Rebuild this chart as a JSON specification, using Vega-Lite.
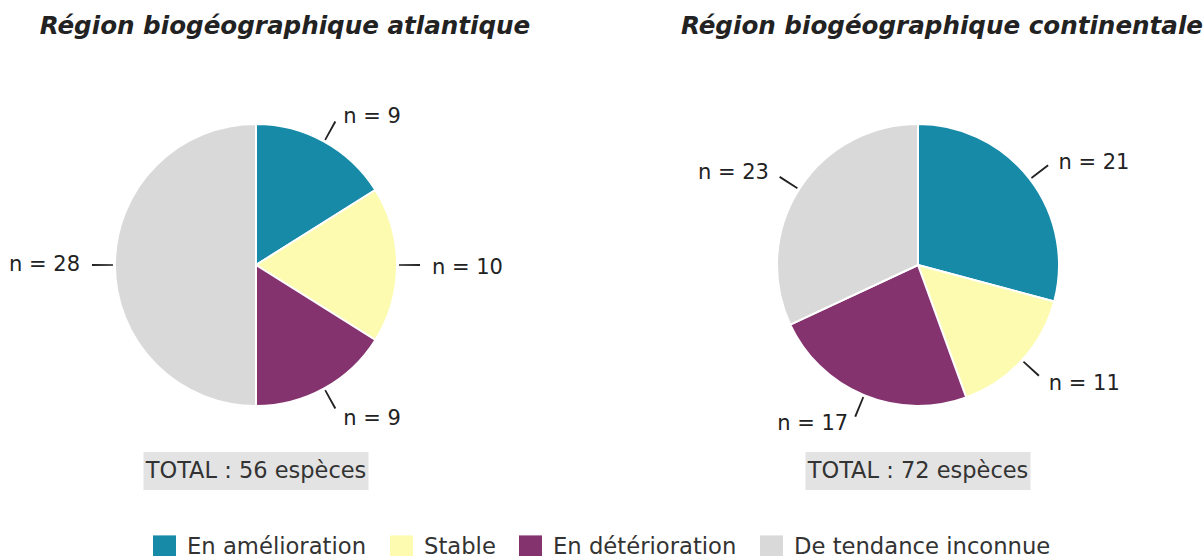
{
  "$schema": "https://vega.github.io/schema/vega-lite/v6.json",
  "padding": {"left": 0, "top": 14, "right": 0, "bottom": 0},
  "background": "white",
  "datasets": {
    "pie": [
      {"region": "atlantique", "cat": "En amélioration", "rank": 1, "n": 9},
      {"region": "atlantique", "cat": "Stable", "rank": 2, "n": 10},
      {"region": "atlantique", "cat": "En détérioration", "rank": 3, "n": 9},
      {"region": "atlantique", "cat": "De tendance inconnue", "rank": 4, "n": 28},
      {"region": "continentale", "cat": "En amélioration", "rank": 1, "n": 21},
      {"region": "continentale", "cat": "Stable", "rank": 2, "n": 11},
      {"region": "continentale", "cat": "En détérioration", "rank": 3, "n": 17},
      {"region": "continentale", "cat": "De tendance inconnue", "rank": 4, "n": 23}
    ]
  },
  "spacing": 131,
  "hconcat": [
    {
      "vconcat": [
        {
          "title": {"text": "Région biogéographique atlantique", "dx": 29},
          "width": 512, "height": 340,
          "data": {"name": "pie"},
          "transform": [
            {"filter": "datum.region === 'atlantique'"},
            {"joinaggregate": [{"op": "sum", "field": "n", "as": "tot"}]},
            {"window": [{"op": "sum", "field": "n", "as": "cum"}], "sort": [{"field": "rank"}], "frame": [null, 0]},
            {"calculate": "2*PI*(datum.cum-datum.n)/datum.tot", "as": "a0"},
            {"calculate": "2*PI*datum.cum/datum.tot", "as": "a1"},
            {"calculate": "(datum.a0+datum.a1)/2", "as": "mid"},
            {"calculate": "datum.mid-0.006", "as": "l0"},
            {"calculate": "datum.mid+0.006", "as": "l1"},
            {"calculate": "'n = ' + datum.n", "as": "label"}
          ],
          "layer": [
            {
              "mark": {"type": "arc", "outerRadius": 141, "stroke": "white", "strokeWidth": 2},
              "encoding": {
                "theta": {"field": "a0", "type": "quantitative", "scale": null},
                "theta2": {"field": "a1"},
                "color": {"field": "cat", "type": "nominal", "title": null,
                  "scale": {"domain": ["En amélioration", "Stable", "En détérioration", "De tendance inconnue"],
                            "range": ["#178aa8", "#fdfbb0", "#84336f", "#d9d9d9"]},
                  "legend": {"orient": "none", "legendX": 153, "legendY": 440, "direction": "horizontal"}}
              }
            },
            {
              "mark": {"type": "arc", "innerRadius": 143, "outerRadius": 164, "fill": "#222"},
              "encoding": {
                "theta": {"field": "l0", "type": "quantitative", "scale": null},
                "theta2": {"field": "l1"}
              }
            },
            {
              "transform": [{"filter": "datum.mid < PI"}],
              "mark": {"type": "text", "radius": 172, "align": "left", "baseline": "middle", "dx": 4, "dy": 3, "fontSize": 21, "font": "DejaVu Sans", "color": "#222"},
              "encoding": {
                "theta": {"field": "mid", "type": "quantitative", "scale": null},
                "text": {"field": "label"}
              }
            },
            {
              "transform": [{"filter": "datum.mid >= PI"}],
              "mark": {"type": "text", "radius": 172, "align": "right", "baseline": "middle", "dx": -4, "fontSize": 21, "font": "DejaVu Sans", "color": "#222"},
              "encoding": {
                "theta": {"field": "mid", "type": "quantitative", "scale": null},
                "text": {"field": "label"}
              }
            }
          ]
        },
        {
          "width": 225, "height": 38,
          "view": {"fill": "#e3e3e3", "stroke": null},
          "data": {"name": "pie"},
          "transform": [
            {"filter": "datum.region === 'atlantique'"},
            {"aggregate": [{"op": "sum", "field": "n", "as": "tot"}]},
            {"calculate": "'TOTAL : ' + datum.tot + ' espèces'", "as": "label"}
          ],
          "mark": {"type": "text", "fontSize": 22.5, "font": "DejaVu Sans", "color": "#333", "baseline": "middle"},
          "encoding": {"text": {"field": "label"}}
        }
      ],
      "spacing": 17,
      "center": true,
      "bounds": "flush"
    },
    {
      "vconcat": [
        {
          "title": {"text": "Région biogéographique continentale", "dx": 24},
          "width": 512, "height": 340,
          "data": {"name": "pie"},
          "transform": [
            {"filter": "datum.region === 'continentale'"},
            {"joinaggregate": [{"op": "sum", "field": "n", "as": "tot"}]},
            {"window": [{"op": "sum", "field": "n", "as": "cum"}], "sort": [{"field": "rank"}], "frame": [null, 0]},
            {"calculate": "2*PI*(datum.cum-datum.n)/datum.tot", "as": "a0"},
            {"calculate": "2*PI*datum.cum/datum.tot", "as": "a1"},
            {"calculate": "(datum.a0+datum.a1)/2", "as": "mid"},
            {"calculate": "datum.mid-0.006", "as": "l0"},
            {"calculate": "datum.mid+0.006", "as": "l1"},
            {"calculate": "'n = ' + datum.n", "as": "label"}
          ],
          "layer": [
            {
              "mark": {"type": "arc", "outerRadius": 141, "stroke": "white", "strokeWidth": 2},
              "encoding": {
                "theta": {"field": "a0", "type": "quantitative", "scale": null},
                "theta2": {"field": "a1"},
                "color": {"field": "cat", "type": "nominal", "title": null,
                  "scale": {"domain": ["En amélioration", "Stable", "En détérioration", "De tendance inconnue"],
                            "range": ["#178aa8", "#fdfbb0", "#84336f", "#d9d9d9"]},
                  "legend": {"orient": "none", "legendX": 153, "legendY": 440, "direction": "horizontal"}}
              }
            },
            {
              "mark": {"type": "arc", "innerRadius": 143, "outerRadius": 164, "fill": "#222"},
              "encoding": {
                "theta": {"field": "l0", "type": "quantitative", "scale": null},
                "theta2": {"field": "l1"}
              }
            },
            {
              "transform": [{"filter": "datum.mid < PI"}],
              "mark": {"type": "text", "radius": 172, "align": "left", "baseline": "middle", "dx": 4, "dy": 3, "fontSize": 21, "font": "DejaVu Sans", "color": "#222"},
              "encoding": {
                "theta": {"field": "mid", "type": "quantitative", "scale": null},
                "text": {"field": "label"}
              }
            },
            {
              "transform": [{"filter": "datum.mid >= PI"}],
              "mark": {"type": "text", "radius": 172, "align": "right", "baseline": "middle", "dx": -4, "fontSize": 21, "font": "DejaVu Sans", "color": "#222"},
              "encoding": {
                "theta": {"field": "mid", "type": "quantitative", "scale": null},
                "text": {"field": "label"}
              }
            }
          ]
        },
        {
          "width": 225, "height": 38,
          "view": {"fill": "#e3e3e3", "stroke": null},
          "data": {"name": "pie"},
          "transform": [
            {"filter": "datum.region === 'continentale'"},
            {"aggregate": [{"op": "sum", "field": "n", "as": "tot"}]},
            {"calculate": "'TOTAL : ' + datum.tot + ' espèces'", "as": "label"}
          ],
          "mark": {"type": "text", "fontSize": 22.5, "font": "DejaVu Sans", "color": "#333", "baseline": "middle"},
          "encoding": {"text": {"field": "label"}}
        }
      ],
      "spacing": 17,
      "center": true,
      "bounds": "flush"
    }
  ],
  "config": {
    "view": {"stroke": null},
    "font": "DejaVu Sans",
    "title": {"font": "DejaVu Sans", "fontSize": 24.6, "fontWeight": "bold", "fontStyle": "italic", "color": "#222", "anchor": "middle", "offset": 55},
    "legend": {
      "labelFont": "DejaVu Sans", "labelFontSize": 22.7, "labelColor": "#333",
      "symbolType": "square", "symbolSize": 529, "symbolStrokeWidth": 0, "symbolOpacity": 1,
      "labelOffset": 11, "columnPadding": 23, "labelLimit": 400
    }
  }
}
